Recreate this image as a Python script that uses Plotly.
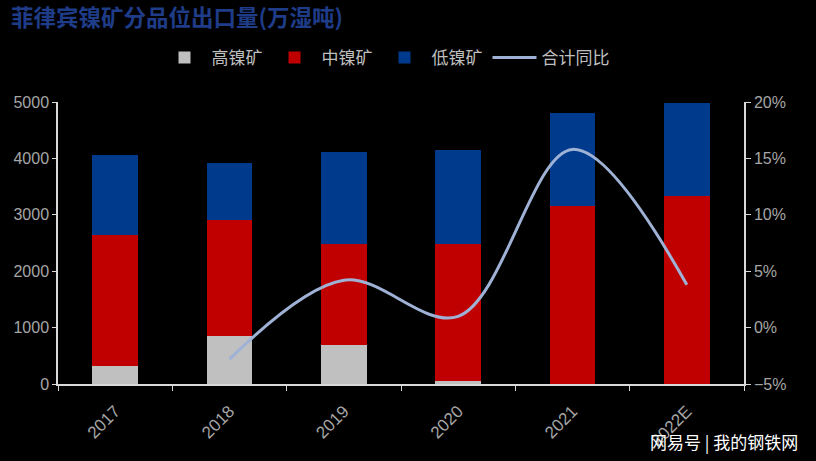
import plotly.graph_objects as go
from plotly.subplots import make_subplots

years = ["2017", "2018", "2019", "2020", "2021", "2022E"]
high_ni = [320, 855, 695, 60, 0, 0]
mid_ni = [2330, 2045, 1780, 2415, 3155, 3335]
low_ni = [1410, 1025, 1630, 1670, 1650, 1650]
yoy_years = ["2018", "2019", "2020", "2021", "2022E"]
yoy_pct = [-2.8, 4.2, 1.0, 15.8, 3.8]

title_text = "菲律宾镍矿分品位出口量(万湿吨)"
names = ["高镍矿", "中镍矿", "低镍矿", "合计同比"]
watermark = "网易号 | 我的钢铁网"

tick_color = "#a6a6a6"
axis_color = "#d9d9d9"
font_family = "Liberation Sans, Arial, sans-serif"
cjk_font = "Noto Sans CJK SC, sans-serif"

W, H = 816, 461
ML, MR, MT, MB = 58, 72, 102, 77
PW, PH = W - ML - MR, H - MT - MB

fig = make_subplots(specs=[[{"secondary_y": True}]])

fig.add_trace(go.Bar(x=years, y=high_ni, name=names[0], marker_color="#c0c0c0",
                     marker_line_width=0), secondary_y=False)
fig.add_trace(go.Bar(x=years, y=mid_ni, name=names[1], marker_color="#c00000",
                     marker_line_width=0), secondary_y=False)
fig.add_trace(go.Bar(x=years, y=low_ni, name=names[2], marker_color="#003a8c",
                     marker_line_width=0), secondary_y=False)
fig.add_trace(go.Scatter(x=yoy_years, y=yoy_pct, name=names[3], mode="lines",
                         line=dict(color="#9fb2d6", width=3, shape="spline", smoothing=1.0)),
              secondary_y=True)

fig.update_layout(
    width=W, height=H,
    paper_bgcolor="#000000", plot_bgcolor="#000000",
    barmode="stack", bargap=0.6,
    margin=dict(l=ML, r=MR, t=MT, b=MB, autoexpand=False),
    title=dict(text="<b>" + title_text + "</b>", x=11 / W, xanchor="left",
               y=1 - 18 / H, yanchor="middle",
               font=dict(family=cjk_font, size=22.5, color="#1f3c88")),
    legend=dict(orientation="h", xref="container", yref="container",
                x=386 / W, xanchor="center", y=1 - 58 / H, yanchor="middle",
                font=dict(family=cjk_font, size=17, color="#bfbfbf"),
                bgcolor="rgba(0,0,0,0)", itemwidth=44, traceorder="normal"),
    font=dict(family=font_family, color=tick_color),
    showlegend=True,
)

fig.update_xaxes(type="category", domain=[0, 1], showgrid=False, showline=True,
                 linecolor=axis_color, linewidth=1.5,
                 ticks="outside", tickson="boundaries", ticklen=5, tickcolor=axis_color,
                 tickangle=-45, ticklabelstandoff=9,
                 tickfont=dict(size=17, color=tick_color, family=font_family),
                 zeroline=False)
fig.update_yaxes(range=[0, 5000], dtick=1000, showgrid=False, showline=True, linecolor=axis_color,
                 linewidth=1.5, ticks="outside", ticklen=4, tickcolor=axis_color,
                 tickfont=dict(size=16, color=tick_color, family=font_family), zeroline=False,
                 secondary_y=False)
fig.update_yaxes(range=[-5, 20], dtick=5, ticksuffix="%", showgrid=False, showline=True,
                 linecolor=axis_color, linewidth=1.5, ticks="outside", ticklen=5,
                 tickcolor=axis_color, tickfont=dict(size=16, color=tick_color, family=font_family),
                 zeroline=False, secondary_y=True)

fig.add_annotation(text=watermark, xref="paper", yref="paper",
                   x=(800 - ML) / PW, y=(H - MB - 441) / PH,
                   xanchor="right", yanchor="middle", showarrow=False,
                   font=dict(family=cjk_font, size=17, color="#ffffff"))

fig.write_html("out.html")
